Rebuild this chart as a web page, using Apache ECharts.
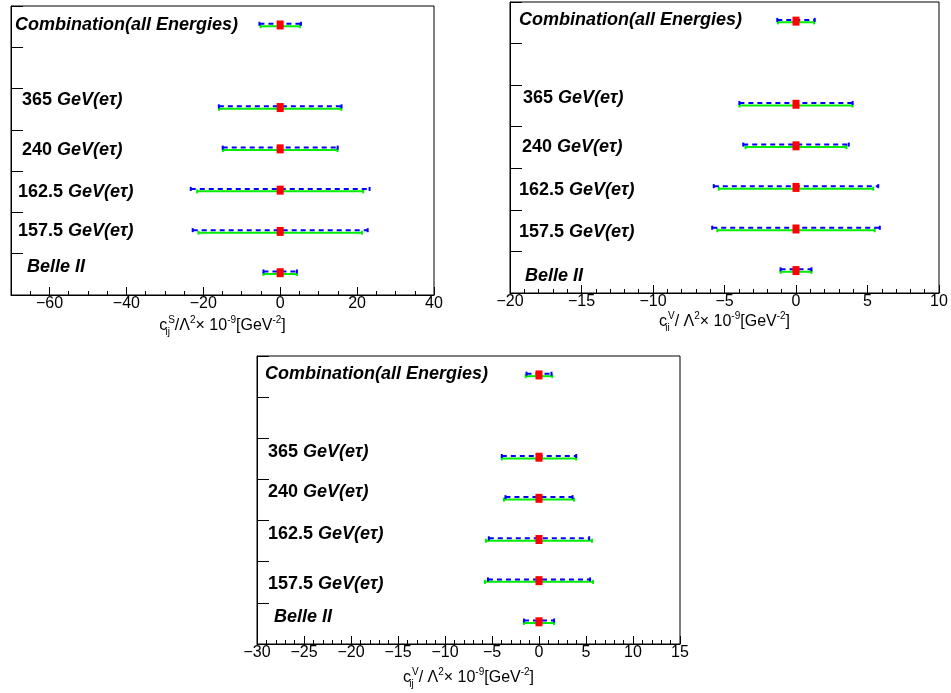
<!DOCTYPE html>
<html><head><meta charset="utf-8">
<script src="https://cdn.jsdelivr.net/npm/echarts@6/dist/echarts.min.js"></script>
<style>html,body{margin:0;padding:0;background:#fff}#c{width:951px;height:693px}</style>
</head><body><div id="c"></div><script>
// ---------------- data ----------------
const categories = ['Belle II', '157.5 GeV(eτ)', '162.5 GeV(eτ)', '240 GeV(eτ)', '365 GeV(eτ)', 'Combination(all Energies)'];
const rowPos = [0.5, 1.5, 2.5, 3.5, 4.5, 6.5];
const centralValue = [0, 0, 0, 0, 0, 0];
// panel 1: c_ij^S  (half widths of the intervals)
const sGreen = [4.35, 21.25, 21.6, 14.9, 15.9, 5.1];
const sBlue = [4.35, 22.75, 23.25, 14.95, 15.95, 5.4];
// panel 2: c_ii^V
const viiGreen = [1.08, 5.5, 5.4, 3.53, 3.95, 1.27];
const viiBlue = [1.08, 5.86, 5.75, 3.69, 3.96, 1.31];
// panel 3: c_ij^V
const vijGreen = [1.61, 5.75, 5.65, 3.73, 3.96, 1.41];
const vijBlue = [1.6, 5.43, 5.34, 3.57, 3.96, 1.33];
// tick labels
const xTicksS = [-60, -40, -20, 0, 20, 40];
const xRangeS = [-70, 40];
const xRangeVii = [-20, 10];
const xRangeVij = [-30, 15];

// ---------------- layout ----------------
const FONT = 'Liberation Sans, Arial, Helvetica, sans-serif';
const grids = [
  {left: 11, top: 6, width: 423, height: 289},
  {left: 510, top: 2, width: 429, height: 291},
  {left: 257, top: 356, width: 423, height: 288}
];
const nameGaps = [20, 15, 23];
const labelPos = [
  [[27, 267], [18, 231], [18, 192], [22, 150], [22, 100], [15, 25]],
  [[525, 276], [519, 232], [519, 190], [522, 147], [523, 98], [519, 20]],
  [[274, 617], [268, 584], [268, 534], [268, 492], [268, 452], [265, 374]]
];
const OFF_BLUE = 0.07, OFF_GREEN = 0.01, OFF_MARK = 0.04;

const chart = echarts.init(document.getElementById('c'), null, {renderer: 'canvas'});
const minus = v => String(v).replace('-', '\u2212');

const nameRich = {
  m: {fontFamily: FONT, fontSize: 16, lineHeight: 22, color: '#000'},
  sup: {fontFamily: FONT, fontSize: 10, lineHeight: 10, verticalAlign: 'top', color: '#000'},
  sub: {fontFamily: FONT, fontSize: 10, lineHeight: 8, verticalAlign: 'bottom', color: '#000', width: 1}
};
const axisNames = [
  '{m|c}{sub|ij}{sup|S}{m|/Λ}{sup|2}{m|× 10}{sup|-9}{m|[GeV}{sup|-2}{m|]}',
  '{m|c}{sub|ii}{sup|V}{m|/ Λ}{sup|2}{m|× 10}{sup|-9}{m|[GeV}{sup|-2}{m|]}',
  '{m|c}{sub|ij}{sup|V}{m|/ Λ}{sup|2}{m|× 10}{sup|-9}{m|[GeV}{sup|-2}{m|]}'
];

function baseX(gi, range, extra) {
  return Object.assign({
    type: 'value', gridIndex: gi, min: range[0], max: range[1], position: 'bottom',
    axisLine: {show: true, onZero: false, lineStyle: {color: '#000', width: 1}},
    splitLine: {show: false},
    axisTick: {show: true, inside: true, length: 8, lineStyle: {color: '#000', width: 1}},
    minorTick: {show: true, splitNumber: 5, length: 4, lineStyle: {color: '#000', width: 1}},
    axisLabel: {show: true, color: '#000', fontFamily: FONT, fontSize: 16, margin: 1,
      showMinLabel: true, showMaxLabel: true, formatter: minus},
    name: axisNames[gi], nameLocation: 'middle', nameGap: nameGaps[gi],
    nameTextStyle: {rich: nameRich}
  }, extra || {});
}
function baseY(gi, show) {
  return {
    type: 'value', gridIndex: gi, min: 0, max: 7, interval: 1, show: show, position: 'left',
    axisLine: {show: true, onZero: false, lineStyle: {color: '#000', width: 1}},
    axisTick: {show: true, inside: true, length: 12, lineStyle: {color: '#000', width: 1}},
    axisLabel: {show: false}, splitLine: {show: false}
  };
}

const xAxes = [
  baseX(0, xRangeS, {
    interval: 5,
    minorTick: {show: false},
    axisTick: {show: true, inside: true, length: 8, customValues: xTicksS, lineStyle: {color: '#000', width: 1}},
    axisLabel: {show: true, color: '#000', fontFamily: FONT, fontSize: 16, margin: 1,
      customValues: xTicksS, formatter: minus}
  }),
  baseX(1, xRangeVii, {interval: 5}),
  baseX(2, xRangeVij, {interval: 5}),
  // overlay axis for the short (minor) ticks of panel 1
  {
    type: 'value', gridIndex: 3, min: xRangeS[0], max: xRangeS[1], interval: 5, position: 'bottom',
    axisLine: {show: false, onZero: false}, splitLine: {show: false}, axisLabel: {show: false},
    axisTick: {show: true, inside: true, length: 4, lineStyle: {color: '#000', width: 1}}
  }
];
const yAxes = [baseY(0, true), baseY(1, true), baseY(2, true), baseY(3, false)];

function errorBar(color, dashed, off) {
  return function (params, api) {
    const y = api.value(2) + off;
    const a = api.coord([api.value(0), y]);
    const b = api.coord([api.value(1), y]);
    const cap = 2;
    const capStyle = {stroke: color, lineWidth: 2};
    return {
      type: 'group', children: [
        {type: 'line', shape: {x1: a[0], y1: a[1], x2: b[0], y2: b[1]},
          style: {stroke: color, lineWidth: 2, lineDash: dashed ? [5, 4] : null}},
        {type: 'line', shape: {x1: a[0], y1: a[1] - cap, x2: a[0], y2: a[1] + cap}, style: capStyle},
        {type: 'line', shape: {x1: b[0], y1: b[1] - cap, x2: b[0], y2: b[1] + cap}, style: capStyle}
      ]
    };
  };
}

const panels = [[sGreen, sBlue], [viiGreen, viiBlue], [vijGreen, vijBlue]];
const series = [];
panels.forEach(function (p, gi) {
  const mk = half => rowPos.map((y, i) => [centralValue[i] - half[i], centralValue[i] + half[i], y]);
  series.push({
    type: 'custom', xAxisIndex: gi, yAxisIndex: gi, renderItem: errorBar('#00ee00', false, OFF_GREEN),
    data: mk(p[0]), encode: {x: [0, 1], y: 2}, z: 2, silent: true
  });
  series.push({
    type: 'custom', xAxisIndex: gi, yAxisIndex: gi, renderItem: errorBar('#0000ff', true, OFF_BLUE),
    data: mk(p[1]), encode: {x: [0, 1], y: 2}, z: 3, silent: true
  });
  series.push({
    type: 'scatter', xAxisIndex: gi, yAxisIndex: gi, symbol: 'rect', symbolSize: [7, 9],
    itemStyle: {color: '#ff0000', opacity: 1}, z: 4, silent: true,
    data: rowPos.map((y, i) => [centralValue[i], y + OFF_MARK])
  });
});

const textRich = {
  n: {fontFamily: FONT, fontWeight: 'bold', fontSize: 18, fill: '#000'},
  i: {fontFamily: FONT, fontWeight: 'bold', fontStyle: 'italic', fontSize: 18, fill: '#000'}
};
function labelText(cat) {
  if (/^[0-9]/.test(cat)) {
    const k = cat.indexOf(' ');
    return '{n|' + cat.slice(0, k + 1) + '}{i|' + cat.slice(k + 1) + '}';
  }
  return '{i|' + cat + '}';
}
const graphics = [];
labelPos.forEach(function (pp) {
  categories.forEach(function (cat, i) {
    graphics.push({
      type: 'text', x: pp[i][0], y: pp[i][1], silent: true,
      style: {text: labelText(cat), rich: textRich, verticalAlign: 'middle', align: 'left', fill: '#000'}
    });
  });
});

chart.setOption({
  backgroundColor: '#ffffff',
  animation: false,
  grid: grids.map(g => Object.assign({show: true, borderColor: '#000', borderWidth: 1,
    backgroundColor: 'transparent', containLabel: false}, g))
    .concat([Object.assign({show: false}, grids[0])]),
  xAxis: xAxes,
  yAxis: yAxes,
  series: series,
  graphic: graphics
});
</script></body></html>
